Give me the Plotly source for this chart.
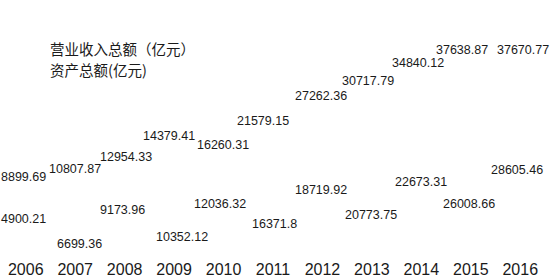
import plotly.graph_objects as go

years = [2006, 2007, 2008, 2009, 2010, 2011, 2012, 2013, 2014, 2015, 2016]
year_labels = [str(y) for y in years]
revenue = [8899.69, 10807.87, 12954.33, 14379.41, 16260.31, 21579.15,
           27262.36, 30717.79, 34840.12, 37638.87, 37670.77]
assets = [4900.21, 6699.36, 9173.96, 10352.12, 12036.32, 16371.8,
          18719.92, 20773.75, 22673.31, 26008.66, 28605.46]
series_names = ["营业收入总额（亿元）", "资产总额(亿元)"]

# label nudges (pixels), as placed in the original figure
rev_dx = [-2, 0, 1, -5, -1, -10, -1.5, -4, -3, -9, 3]
rev_dy = [-1.4, -1.4, -4, -18, -1.4, -1.4, -1.4, -1.4, -1.4, -1.4, -1.4]
asset_dx = [-2, 4, -2, 8, -4, 1.5, -1.5, -1, 0, -2, -3]
asset_dy = [-15.8 if i % 2 == 0 else 13 for i in range(len(years))]

num_font = dict(family="Liberation Sans, Arial, sans-serif", size=12.5, color="#1a1a1a")


def fmt(v):
    return f"{v:.2f}".rstrip("0").rstrip(".")


fig = go.Figure()
fig.add_trace(go.Scatter(x=years, y=revenue, name=series_names[0], mode="markers",
                         marker=dict(size=1, opacity=0), hoverinfo="skip",
                         showlegend=False, yaxis="y"))
fig.add_trace(go.Scatter(x=years, y=assets, name=series_names[1], mode="markers",
                         marker=dict(size=1, opacity=0), hoverinfo="skip",
                         showlegend=False, yaxis="y2"))

for x, v, dx, dy in zip(years, revenue, rev_dx, rev_dy):
    fig.add_annotation(x=x, y=v, xref="x", yref="y", text=fmt(v), showarrow=False,
                       xanchor="center", yanchor="middle", xshift=dx, yshift=-dy,
                       font=num_font)
for x, v, dx, dy in zip(years, assets, asset_dx, asset_dy):
    fig.add_annotation(x=x, y=v, xref="x", yref="y2", text=fmt(v), showarrow=False,
                       xanchor="center", yanchor="middle", xshift=dx, yshift=-dy,
                       font=num_font)

cjk = dict(family="Noto Sans CJK SC, sans-serif", size=14.5, color="#1a1a1a")
fig.add_annotation(text=series_names[0], xref="paper", yref="paper", x=47 / 544, y=1 - 48.3 / 258,
                   xanchor="left", yanchor="middle", showarrow=False, font=cjk)
fig.add_annotation(text=series_names[1], xref="paper", yref="paper", x=47 / 544, y=1 - 69 / 258,
                   xanchor="left", yanchor="middle", showarrow=False, font=cjk)

fig.update_layout(
    width=550, height=279,
    margin=dict(l=1, r=5, t=0, b=21),
    paper_bgcolor="white", plot_bgcolor="white",
    showlegend=False,
    xaxis=dict(range=[2005.5, 2016.5], tickvals=years, ticktext=year_labels,
               showgrid=False, zeroline=False, showline=False, ticks="",
               tickfont=dict(family="Liberation Sans, Arial, sans-serif", size=16, color="#1a1a1a")),
    yaxis=dict(range=[-9061, 49297], visible=False, showgrid=False, zeroline=False),
    yaxis2=dict(range=[-6166, 117694], visible=False, showgrid=False, zeroline=False,
                overlaying="y", side="right"),
)

fig.write_html("out.html")
